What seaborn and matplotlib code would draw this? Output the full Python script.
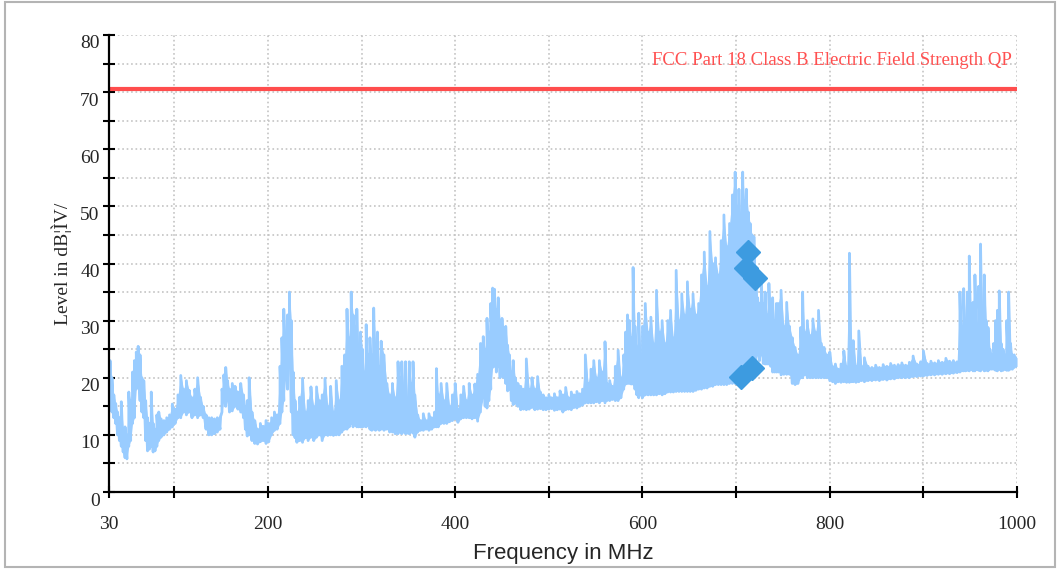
import numpy as np
import pandas as pd
import seaborn as sns
import matplotlib.pyplot as plt
from matplotlib.patches import Rectangle
from matplotlib.transforms import ScaledTranslation

# ---- data (MHz, dBuV/m): lower / upper edge of the trace ----
freq_mhz = [
    30, 31.5, 33.5, 35.5, 37.5, 39.5, 41.5, 43.5, 45.5, 47.5, 49.5, 51.5, 53.5, 55.5, 57.5, 59.5,
    61.5, 63.5, 65.5, 67.5, 69.5, 71.5, 73.5, 75.5, 77.5, 79.5, 81.5, 83.5, 86, 89, 92, 95, 98,
    101, 104, 107, 110, 113, 116, 119, 122, 125, 128, 131, 134, 137, 140, 143, 146, 149, 151,
    153, 155, 157, 159, 162, 165, 168, 171, 174, 176, 178, 180, 183, 186, 189, 192, 195, 198,
    201, 204, 207, 210, 213, 215, 217, 219, 221, 223, 225, 227, 229, 231, 234, 237, 240, 243,
    246, 249, 252, 255, 258, 261, 264, 267, 270, 273, 276, 279, 282, 284.5, 287, 289, 291, 293,
    295, 297, 299, 301, 303, 305, 307, 309, 311, 313, 315, 317, 319, 321, 324, 327, 330, 333,
    336, 339, 341, 343, 345, 347, 349, 351, 353, 355, 357, 360, 363, 366, 369, 372, 375, 378,
    380, 382, 385, 388, 391, 394, 397, 400, 403, 406, 409, 412, 415, 418, 421, 424, 427, 430,
    432, 434, 436, 438, 440, 442, 444, 446, 448, 450, 452, 454, 456, 458, 460, 462, 464, 467,
    470, 473, 476, 479, 482, 485, 488, 491, 494, 497, 500, 503, 506, 509, 512, 515, 518, 521,
    524, 527, 530, 533, 536, 539, 542, 545, 548, 551, 554, 557, 560, 562, 565, 568, 571, 574,
    577, 580, 582, 584, 586, 588, 590, 592, 594, 596, 598, 600, 603, 606, 609, 612, 615, 618,
    621, 624, 627, 630, 633, 636, 639, 642, 645, 648, 651, 654, 657, 660, 663, 666, 669, 672,
    675, 678, 681, 684, 687, 690, 693, 696, 699, 701, 703, 705, 707, 709, 711, 713, 715, 717,
    719, 721, 723, 725, 727, 729, 731, 733, 735, 737, 739, 741, 743, 745, 748, 751, 754, 757,
    760, 763, 766, 769, 771, 773, 776, 779, 782, 785, 788, 791, 794, 797, 800, 803, 806, 809,
    812, 815, 818, 821, 823, 825, 828, 831, 834, 837, 841, 845, 849, 853, 857, 861, 865, 869,
    873, 877, 881, 885, 889, 893, 897, 900, 904, 908, 912, 916, 920, 924, 928, 932, 936, 939,
    941, 943, 945, 947, 949, 951, 953, 955, 957, 959, 961, 963, 965, 967, 969, 971, 973, 975,
    977, 979, 981, 983, 985, 987, 989, 991, 993, 995, 997, 1000,
]
level_lo = [
    18, 17, 14, 13, 12, 10, 9, 8, 7, 6, 5.8, 8, 9, 12, 13, 18,
    19, 16, 14, 13, 9, 7.2, 7.5, 8, 7, 7.2, 8, 9, 9.6, 10, 10.5, 11, 11.4,
    12, 13, 13, 14, 13.5, 14, 13, 13.5, 13, 13.5, 13, 11, 10, 10, 10.2, 10.5, 11, 14,
    16, 15, 16, 14, 14.2, 15, 14.5, 14, 13, 11, 9.8, 10, 9, 8.5, 8.4, 8.8, 9, 8.5,
    8.8, 10, 10.8, 11, 12, 14, 16, 20, 18, 22, 14, 10, 9.5, 8.7, 9, 8.7, 9.5, 9,
    9.6, 9, 9.6, 10, 9, 10, 9.9, 10, 9.9, 10, 10, 10.5, 11, 11, 11.4, 12, 11.4, 12,
    11.4, 11.4, 11.4, 11.4, 11.5, 11.4, 12, 11, 10.8, 11, 10.8, 11, 10.8, 11, 10.8, 11, 10.5, 10.5,
    10.2, 10.2, 10.5, 10.2, 10.5, 10.2, 10.3, 10.2, 10.5, 10.3, 9.6, 10.5, 10.8, 10.8, 11, 10.8, 11, 11.4,
    11.4, 11.4, 12, 12, 12, 12.3, 12.5, 12.8, 12.2, 12.8, 13, 13, 13, 12.8, 13, 12.4, 14, 16.5,
    15, 14.7, 16, 18, 21.8, 22, 21, 22, 20, 21, 20, 19, 17.7, 18, 16, 15.3, 15.5, 15,
    14.4, 14.5, 14.4, 14.5, 14.8, 14.4, 14.5, 14.6, 14.4, 14.4, 14.5, 14.6, 14.3, 14.4, 14.5, 14, 14.4, 14.5,
    14.4, 14.8, 14.7, 15, 15.2, 15.6, 15.6, 15.6, 15.6, 15.8, 15.6, 16, 15.6, 16, 16, 16.2, 16, 16,
    16.5, 18, 18.9, 19, 19, 18.9, 18.9, 18, 17, 16.5, 17, 16.5, 17, 17, 17, 17, 17, 17.2,
    17, 17.2, 17.5, 17.5, 17.5, 17.6, 17.6, 17.6, 17.6, 17.6, 17.6, 17.6, 17.8, 18, 18, 18.2, 18.2, 18.5,
    18.5, 18.8, 18.8, 18.8, 18.8, 18.8, 19, 19, 19, 19, 19, 19.5, 19.5, 20, 20, 21, 22, 23,
    23, 23, 24, 23, 24, 22.5, 22.4, 22.4, 22.4, 22, 21, 21, 21, 21, 20.5, 20.6, 20.6, 20.6,
    19, 18.8, 19, 20, 20, 20.5, 20, 20, 20, 20, 20, 20, 20, 20, 19.5, 19.3, 19, 19.3,
    19.2, 19.3, 19.2, 19.2, 19.3, 19.3, 19.2, 19.3, 19.5, 19.3, 19.5, 19.5, 19.6, 19.5, 19.7, 19.6, 19.8, 19.8,
    20, 20, 20, 20, 20.2, 20.2, 20.3, 20.3, 20.4, 20.5, 20.5, 20.6, 20.6, 20.7, 20.7, 20.8, 20.9, 21,
    21.2, 21.2, 21.2, 21.3, 21.2, 21.5, 21.2, 21.2, 21.5, 21.3, 21.2, 21.5, 21.2, 21.3, 21.2, 21.5, 21.5, 21.5,
    21.3, 21.2, 21.5, 21.2, 21.3, 21.5, 21.3, 21.3, 21.5, 21.5, 21.8, 22,
]
level_hi = [
    21, 23, 20, 17, 15.5, 14, 13, 15.8, 11, 11.4, 10, 17.5, 16, 21, 23, 24.5,
    25.5, 24, 20, 19.5, 16, 13, 12, 17.5, 12, 11, 13.5, 14, 12.8, 12.5, 13, 13.5, 15.4,
    14.5, 17, 20.4, 18, 19.5, 17.8, 16.5, 18, 20, 16.6, 15, 13.5, 13, 13, 12.8, 13, 13, 18,
    20.5, 21.8, 19.5, 18, 19, 18.5, 17.5, 19, 17, 15, 16, 20, 14, 12.5, 11, 12, 11.5, 12.5,
    12, 13, 14, 13.5, 22, 27, 32, 27, 31, 35, 30, 21, 16, 14, 16.6, 19.9, 14, 16,
    18.4, 15, 18.4, 16, 17, 19.9, 15, 18.5, 14, 19.5, 16, 22, 24, 32, 27, 35, 31, 29,
    32, 24, 28, 25, 21, 29.3, 24, 27, 24, 32.2, 26, 28, 22, 26.4, 24, 19, 17, 19,
    16.5, 22.8, 20, 22.8, 18, 22.8, 16, 22.8, 19, 22.8, 17, 13.5, 12.5, 13.7, 12.5, 13.7, 13, 14,
    21.6, 17, 19, 16, 19, 15, 17, 19, 14.5, 17, 18.5, 16, 19, 17, 18.9, 20.6, 26, 27.2,
    25, 30.4, 28, 33, 35.7, 35.5, 32, 34, 30, 30.4, 28, 29, 25.7, 24, 21, 23, 20, 19,
    18.5, 18, 23.3, 18, 20, 18, 20.2, 17.5, 17, 16.5, 17, 16.5, 17.2, 16.5, 17.7, 17, 18.3, 16.5,
    17.5, 17, 17.6, 17.2, 18, 24, 19, 21.5, 23, 20, 23, 21, 26.3, 19, 19.5, 18.5, 22, 24.8,
    20, 24, 28, 31, 30, 27, 39.3, 29, 25.4, 31.3, 24, 29, 33, 28, 30.6, 26, 35.3, 28,
    30, 26, 30, 31.8, 27, 38.8, 30, 34.7, 31, 36.8, 32, 34.7, 31, 33, 38, 42, 36, 45.6,
    40, 41, 38, 44, 48.5, 43, 47, 52, 56, 50, 53, 48, 56, 51, 53, 49, 47, 45,
    44.7, 38, 34, 33, 37.4, 33, 35, 31, 36.5, 33, 34, 30, 33, 33, 35.3, 29, 33.2, 29,
    27, 25.3, 24, 28.8, 35, 28, 30, 27.4, 30.3, 28, 31.8, 26, 25.3, 24, 24.5, 22, 22.4, 21.5,
    22.4, 24.7, 22, 41.8, 22, 26.5, 22, 28.2, 22, 23.5, 22, 21.8, 22.2, 21.8, 22.3, 22, 22.5, 22.2,
    22.3, 22.6, 22.2, 22.7, 23.8, 22.4, 22.8, 24.7, 22.5, 22.9, 22.6, 23, 22.7, 23.4, 22.9, 23, 22.8, 35,
    29, 35.6, 30, 35, 41.3, 30, 33.2, 38, 28, 36, 43.4, 32, 38, 30, 28.8, 25, 24, 26,
    30, 31.8, 35.2, 26, 25, 24, 30, 35, 26, 24, 24, 23.5,
]

limit_freq = [30, 1000]
limit_level = [70.5, 70.5]

# final (QP) measurement points
final_freq = [705.5, 710.9, 712.6, 717.3, 719.7]
final_level = [20.2, 39.2, 42.1, 21.7, 37.4]

x_ticks = [30, 100, 200, 300, 400, 500, 600, 700, 800, 900, 1000]
x_labels = ['30', '', '200', '', '400', '', '600', '', '800', '', '1000']
y_ticks = list(range(0, 81, 5))
y_labels = [str(v) if v % 10 == 0 else '' for v in y_ticks]

sns.set_style("white")
plt.rcParams['font.family'] = ['Liberation Serif', 'DejaVu Serif']

fig = plt.figure(figsize=(10.58, 5.69), dpi=100)
ax = fig.add_axes([0.1027, 0.1353, 0.8586, 0.8032])

trace_color = '#99ccff'
# solid body of the trace, then the zigzag between the edges on top
ax.fill_between(freq_mhz, level_lo, level_hi, color=trace_color, lw=0, zorder=3)
trace = pd.DataFrame({
    'freq': np.repeat(freq_mhz, 2),
    'level': np.column_stack([level_lo, level_hi]).ravel(),
})
sns.lineplot(data=trace, x='freq', y='level', sort=False, estimator=None,
             color=trace_color, lw=2.0, ax=ax, zorder=3)

limit = pd.DataFrame({'freq': limit_freq, 'level': limit_level})
sns.lineplot(data=limit, x='freq', y='level', color='#ff4d4d', lw=3, ax=ax, zorder=4)

ax.plot(final_freq, final_level, ls='none', marker='D', ms=12.5,
        color='#3d9be0', mec='#3d9be0', zorder=5)

ax.text(995, 75.6, 'FCC Part 18 Class B Electric Field Strength QP',
        color='#ff5050', fontsize=13.5, ha='right', va='center')

ax.set_xlim(30, 1000)
ax.set_ylim(0, 80)
ax.set_xticks(x_ticks)
ax.set_xticklabels(x_labels)
ax.set_yticks(y_ticks)
ax.set_yticklabels(y_labels)
ax.tick_params(bottom=True, left=True, direction='inout', length=9, width=1.5,
               labelsize=14, color='black')
ax.tick_params(axis='x', pad=13)
ax.tick_params(axis='y', pad=2)
for lab in ax.get_yticklabels():
    lab.set_transform(lab.get_transform() + ScaledTranslation(0, -0.07, fig.dpi_scale_trans))

ax.grid(True, ls=':', color='#c4c4c4', lw=1.2)
ax.set_axisbelow(True)
for side in ['top', 'right']:
    ax.spines[side].set_visible(False)
for side in ['left', 'bottom']:
    ax.spines[side].set_color('black')
    ax.spines[side].set_linewidth(1.6)
    ax.spines[side].set_zorder(6)

ax.set_xlabel('Frequency in MHz', fontsize=16, family=['Liberation Sans', 'DejaVu Sans'], labelpad=7)
ax.set_ylabel('Level in dB¦ÌV/', fontsize=14, labelpad=6)

# grey frame around the whole picture
fig.patches.append(Rectangle((5 / 1058, 2 / 569), 1050 / 1058, 565 / 569, transform=fig.transFigure,
                             fill=False, ec='#b4b4b4', lw=1.5))

fig.savefig('out.png', dpi=100)
